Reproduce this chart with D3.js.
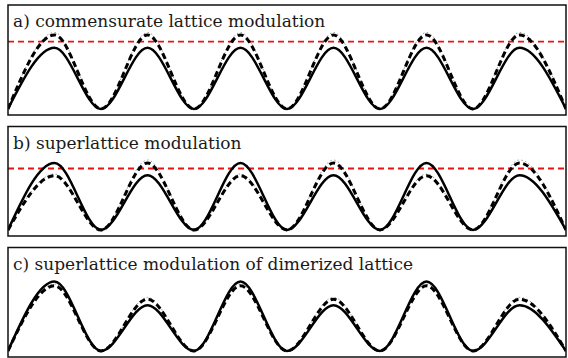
<!DOCTYPE html>
<html>
<head>
<meta charset="utf-8">
<script src="https://cdn.jsdelivr.net/npm/d3@7"></script>
<style>
  html, body { margin: 0; padding: 0; background: #fff; }
  svg { display: block; }
</style>
</head>
<body>
<svg id="chart" width="568" height="358"></svg>
<script>
// Lattice coordinate of each extremum: troughs on integer sites, maxima half-way between.
const sites = [0, 0.5, 1, 1.5, 2, 2.5, 3, 3.5, 4, 4.5, 5, 5.5, 6];

const panelTitles = [
  "a) commensurate lattice modulation",
  "b) superlattice modulation",
  "c) superlattice modulation of dimerized lattice"
];

// Density at each site (trough, peak, trough, ...), per panel.
const solidA  = [0, 1.00, 0, 1.00, 0, 1.00, 0, 1.00, 0, 1.00, 0, 1.00, 0];
const dashedA = [0, 1.21, 0, 1.21, 0, 1.21, 0, 1.21, 0, 1.21, 0, 1.21, 0];
const dottedA = [0, 1.25, 0, 1.25, 0, 1.25, 0, 1.25, 0, 1.25, 0, 1.25, 0];

const solidB  = [0, 1.10, 0, 0.90, 0, 1.10, 0, 0.90, 0, 1.10, 0, 0.90, 0];
const dashedB = [0, 0.89, 0, 1.10, 0, 0.89, 0, 1.10, 0, 0.89, 0, 1.10, 0];
const dottedB = [0, 0.92, 0, 1.15, 0, 0.92, 0, 1.15, 0, 0.92, 0, 1.15, 0];

const solidC  = [0, 1.14, 0, 0.75, 0, 1.14, 0, 0.75, 0, 1.14, 0, 0.75, 0];
const dashedC = [0, 1.07, 0, 0.85, 0, 1.07, 0, 0.85, 0, 1.07, 0, 0.85, 0];
const dottedC = [0, 1.10, 0, 0.88, 0, 1.10, 0, 0.88, 0, 1.10, 0, 0.88, 0];

// Reference level (red dashed line); panel c has none.
const thresholds = [1.10, 1.01, null];

const solids  = [solidA, solidB, solidC];
const dasheds = [dashedA, dashedB, dashedC];
const dotteds = [dottedA, dottedB, dottedC];

const svg = d3.select("#chart");
const boxes = [
  { top: 5,   bottom: 115 },
  { top: 126.5, bottom: 236 },
  { top: 247.5, bottom: 357 }
];
const left = 8, right = 566;

const x = d3.scaleLinear().domain([0, 6]).range([left, right]);

boxes.forEach((b, i) => {
  const y = d3.scaleLinear().domain([-0.1, 1.7]).range([b.bottom, b.top]);
  const g = svg.append("g");

  const clipId = "clip" + i;
  g.append("clipPath").attr("id", clipId)
    .append("rect").attr("x", left).attr("y", b.top)
    .attr("width", right - left).attr("height", b.bottom - b.top);

  const line = vals => d3.line()
    .x((d, k) => x(sites[k]))
    .y(d => y(d))
    .curve(d3.curveMonotoneX)(vals);

  const plot = g.append("g").attr("clip-path", `url(#${clipId})`);

  plot.append("path").attr("d", line(dotteds[i]))
    .attr("fill", "none").attr("stroke", "#9a9a9a")
    .attr("stroke-width", 1).attr("stroke-dasharray", "1.5,2.5");

  if (thresholds[i] !== null) {
    plot.append("line")
      .attr("x1", left).attr("x2", right)
      .attr("y1", y(thresholds[i])).attr("y2", y(thresholds[i]))
      .attr("stroke", "#ee1111").attr("stroke-width", 1.8)
      .attr("stroke-dasharray", "6,4");
  }

  plot.append("path").attr("d", line(dasheds[i]))
    .attr("fill", "none").attr("stroke", "#000")
    .attr("stroke-width", 3).attr("stroke-dasharray", "6,3.5");

  plot.append("path").attr("d", line(solids[i]))
    .attr("fill", "none").attr("stroke", "#000")
    .attr("stroke-width", 2.5);

  g.append("rect")
    .attr("x", left).attr("y", b.top)
    .attr("width", right - left).attr("height", b.bottom - b.top)
    .attr("fill", "none").attr("stroke", "#111").attr("stroke-width", 1.5);

  g.append("text")
    .attr("x", 13).attr("y", b.top + 22)
    .attr("font-family", "'DejaVu Serif', serif")
    .attr("font-size", 17)
    .attr("fill", "#1a1a1a")
    .text(panelTitles[i]);
});
</script>
</body>
</html>
